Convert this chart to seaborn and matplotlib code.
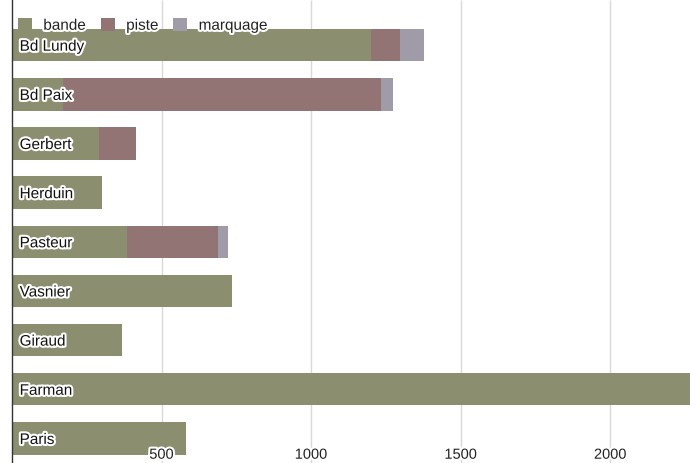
# Longueurs d'aménagements cyclables par rue

import pandas as pd
import matplotlib
matplotlib.use("Agg")
import matplotlib.pyplot as plt
import matplotlib.patheffects as pe
import seaborn as sns

rues = ["Bd Lundy", "Bd Paix", "Gerbert", "Herduin", "Pasteur", "Vasnier", "Giraud", "Farman", "Paris"]
bande = [1200, 172, 290, 300, 383, 734, 366, 2300, 583]
piste = [96, 1060, 126, 0, 304, 0, 0, 0, 0]
marquage = [80, 40, 0, 0, 34, 0, 0, 0, 0]
graduations = [500, 1000, 1500, 2000]

df = pd.DataFrame({"rue": rues, "bande": bande, "piste": piste, "marquage": marquage})
df["cum_piste"] = df["bande"] + df["piste"]
df["total"] = df["cum_piste"] + df["marquage"]

couleurs = {"bande": "#8b8f6f", "piste": "#937474", "marquage": "#9f9ba8"}

sns.set_style("white")
plt.rcParams["font.family"] = ["Liberation Sans", "DejaVu Sans"]

fig = plt.figure(figsize=(6.9, 4.63), dpi=100)
ax = fig.add_axes([12 / 690, 0, 1 - 12 / 690, 1])

# grille verticale sous les barres
ax.vlines(graduations, 0, 1, transform=ax.get_xaxis_transform(),
          colors="#d9d9d9", linewidth=1, zorder=0.5)

# empilement : on dessine les cumuls du plus long au plus court
for col, nom in [("total", "marquage"), ("cum_piste", "piste"), ("bande", "bande")]:
    sns.barplot(data=df, x=col, y="rue", orient="h", color=couleurs[nom],
                width=0.66, saturation=1, linewidth=0, ax=ax, label=nom)

halo = [pe.withStroke(linewidth=3, foreground="white")]

ax.set_xlim(0, 2266)
ax.set_ylim(8.50, -0.92)
ax.set_xlabel("")
ax.set_ylabel("")
ax.set_axisbelow(False)

ax.set_xticks(graduations)
ax.tick_params(axis="x", length=0, pad=-11, labelsize=10.5, labelcolor="#222222")
for lab in ax.get_xticklabels():
    lab.set_path_effects(halo)

ax.tick_params(axis="y", length=0, pad=-5.5, labelsize=11)
for lab in ax.get_yticklabels():
    lab.set_horizontalalignment("left")
    lab.set_path_effects(halo)
    lab.set_color("#111111")

for s in ["top", "right", "bottom"]:
    ax.spines[s].set_visible(False)
ax.spines["left"].set_color("#333333")
ax.spines["left"].set_linewidth(1)
ax.spines["left"].set_zorder(3)

handles, labels = ax.get_legend_handles_labels()
ordre = ["bande", "piste", "marquage"]
hmap = dict(zip(labels, handles))
leg = ax.legend([hmap[k] for k in ordre], ordre, ncol=3, loc="upper left",
                bbox_to_anchor=(0.0, 0.975), frameon=False, fontsize=11,
                handlelength=0.9, handleheight=1.0, handletextpad=0.75,
                columnspacing=1.0, borderaxespad=0.2, borderpad=0.2)
leg.set_zorder(10)
for t in leg.get_texts():
    t.set_path_effects(halo)
    t.set_color("#222222")

fig.savefig("out.png", dpi=100)
